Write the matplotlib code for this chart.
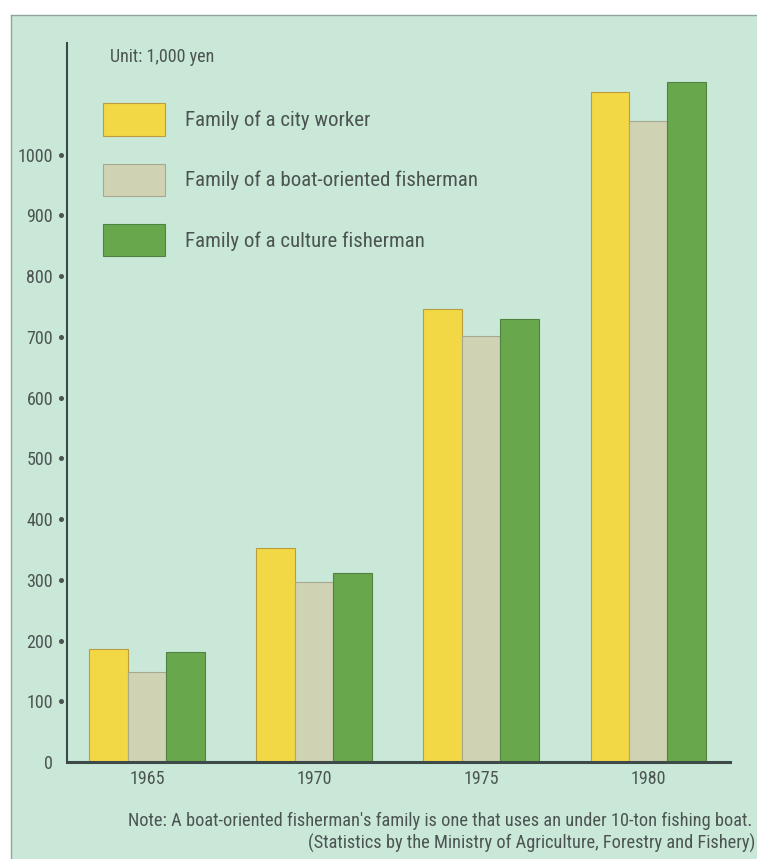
import matplotlib
matplotlib.use("Agg")
import matplotlib.pyplot as plt
from matplotlib.patches import Patch, Rectangle
from matplotlib.lines import Line2D
import numpy as np

years = ["1965", "1970", "1975", "1980"]
series_names = [
    "Family of a city worker",
    "Family of a boat-oriented fisherman",
    "Family of a culture fisherman",
]
city_worker = [186, 352, 746, 1104]
boat_fisherman = [148, 297, 702, 1056]
culture_fisherman = [181, 311, 730, 1119]
y_ticks = [0, 100, 200, 300, 400, 500, 600, 700, 800, 900, 1000]

FONT = ["Roboto Condensed", "DejaVu Sans"]
TEXT = "#4c5452"
BG = "#c9e8d8"
fills = ["#f3d845", "#d0d2b4", "#68a74c"]
edges = ["#b99e40", "#a6a890", "#4f8440"]

W, H = 757, 859
fig = plt.figure(figsize=(W / 100, H / 100), dpi=100)
fig.patch.set_facecolor("white")

# mint panel with a thin frame on its top and left
fig.patches.append(Rectangle((11 / W, 0), 1, 1 - 15 / H, transform=fig.transFigure,
                             facecolor=BG, edgecolor="none", zorder=-10))
fig.add_artist(Line2D([11 / W, 1], [1 - 15 / H, 1 - 15 / H], transform=fig.transFigure,
                      color="#8fa59c", lw=1.0))
fig.add_artist(Line2D([11 / W, 11 / W], [0, 1 - 15 / H], transform=fig.transFigure,
                      color="#8fa59c", lw=1.0))

left, right, bottom, top = 67, 730, 762, 43
ax = fig.add_axes([left / W, 1 - bottom / H, (right - left) / W, (bottom - top) / H])
ax.set_facecolor("none")

x = np.arange(len(years))
width = 0.23
for i, vals in enumerate([city_worker, boat_fisherman, culture_fisherman]):
    ax.bar(x + (i - 1) * width, vals, width, color=fills[i], edgecolor=edges[i],
           linewidth=0.8, zorder=2)

ax.set_xlim(-0.479, 3.49)
ax.set_ylim(0, 1184)

for s in ["top", "right"]:
    ax.spines[s].set_visible(False)
ax.spines["left"].set_color("#3d4a48")
ax.spines["left"].set_linewidth(1.5)
ax.spines["bottom"].set_color("#3d4a48")
ax.spines["bottom"].set_linewidth(2.2)

ax.set_xticks(x)
ax.set_xticklabels(years, fontsize=13, color=TEXT, family=FONT)
ax.tick_params(axis="x", length=0, pad=6)
ax.set_yticks(y_ticks)
ax.set_yticklabels([str(v) for v in y_ticks], fontsize=13, color=TEXT, family=FONT)
ax.tick_params(axis="y", length=0, pad=10)

# dot markers beside the y axis
trans = matplotlib.transforms.blended_transform_factory(ax.transAxes, ax.transData)
ax.plot([-6 / (right - left)] * (len(y_ticks) - 1), y_ticks[1:], "o", ms=2.6,
        color="#4a5553", transform=trans, clip_on=False, zorder=3)

ax.text(43 / (right - left), 1 - 19 / (bottom - top), "Unit: 1,000 yen",
        transform=ax.transAxes, fontsize=13, color=TEXT, family=FONT, va="baseline")

handles = [Patch(facecolor=fills[i], edgecolor=edges[i], linewidth=0.8) for i in range(3)]
leg = fig.legend(handles, series_names, loc="upper left",
                 bbox_to_anchor=(103 / W, 1 - 103.5 / H), frameon=False,
                 prop={"family": FONT, "size": 15}, labelcolor=TEXT,
                 handlelength=2.99, handleheight=2.02, labelspacing=1.33,
                 handletextpad=0.95, borderpad=0, borderaxespad=0)

fig.text(752 / W, 1 - 826 / H,
         "Note: A boat-oriented fisherman's family is one that uses an under 10-ton fishing boat.",
         ha="right", va="baseline", fontsize=13.2, color=TEXT, family=FONT)
fig.text(755 / W, 1 - 849 / H,
         "(Statistics by the Ministry of Agriculture, Forestry and Fishery)",
         ha="right", va="baseline", fontsize=13.2, color=TEXT, family=FONT)

fig.savefig("out.png", dpi=100, facecolor=fig.get_facecolor())
